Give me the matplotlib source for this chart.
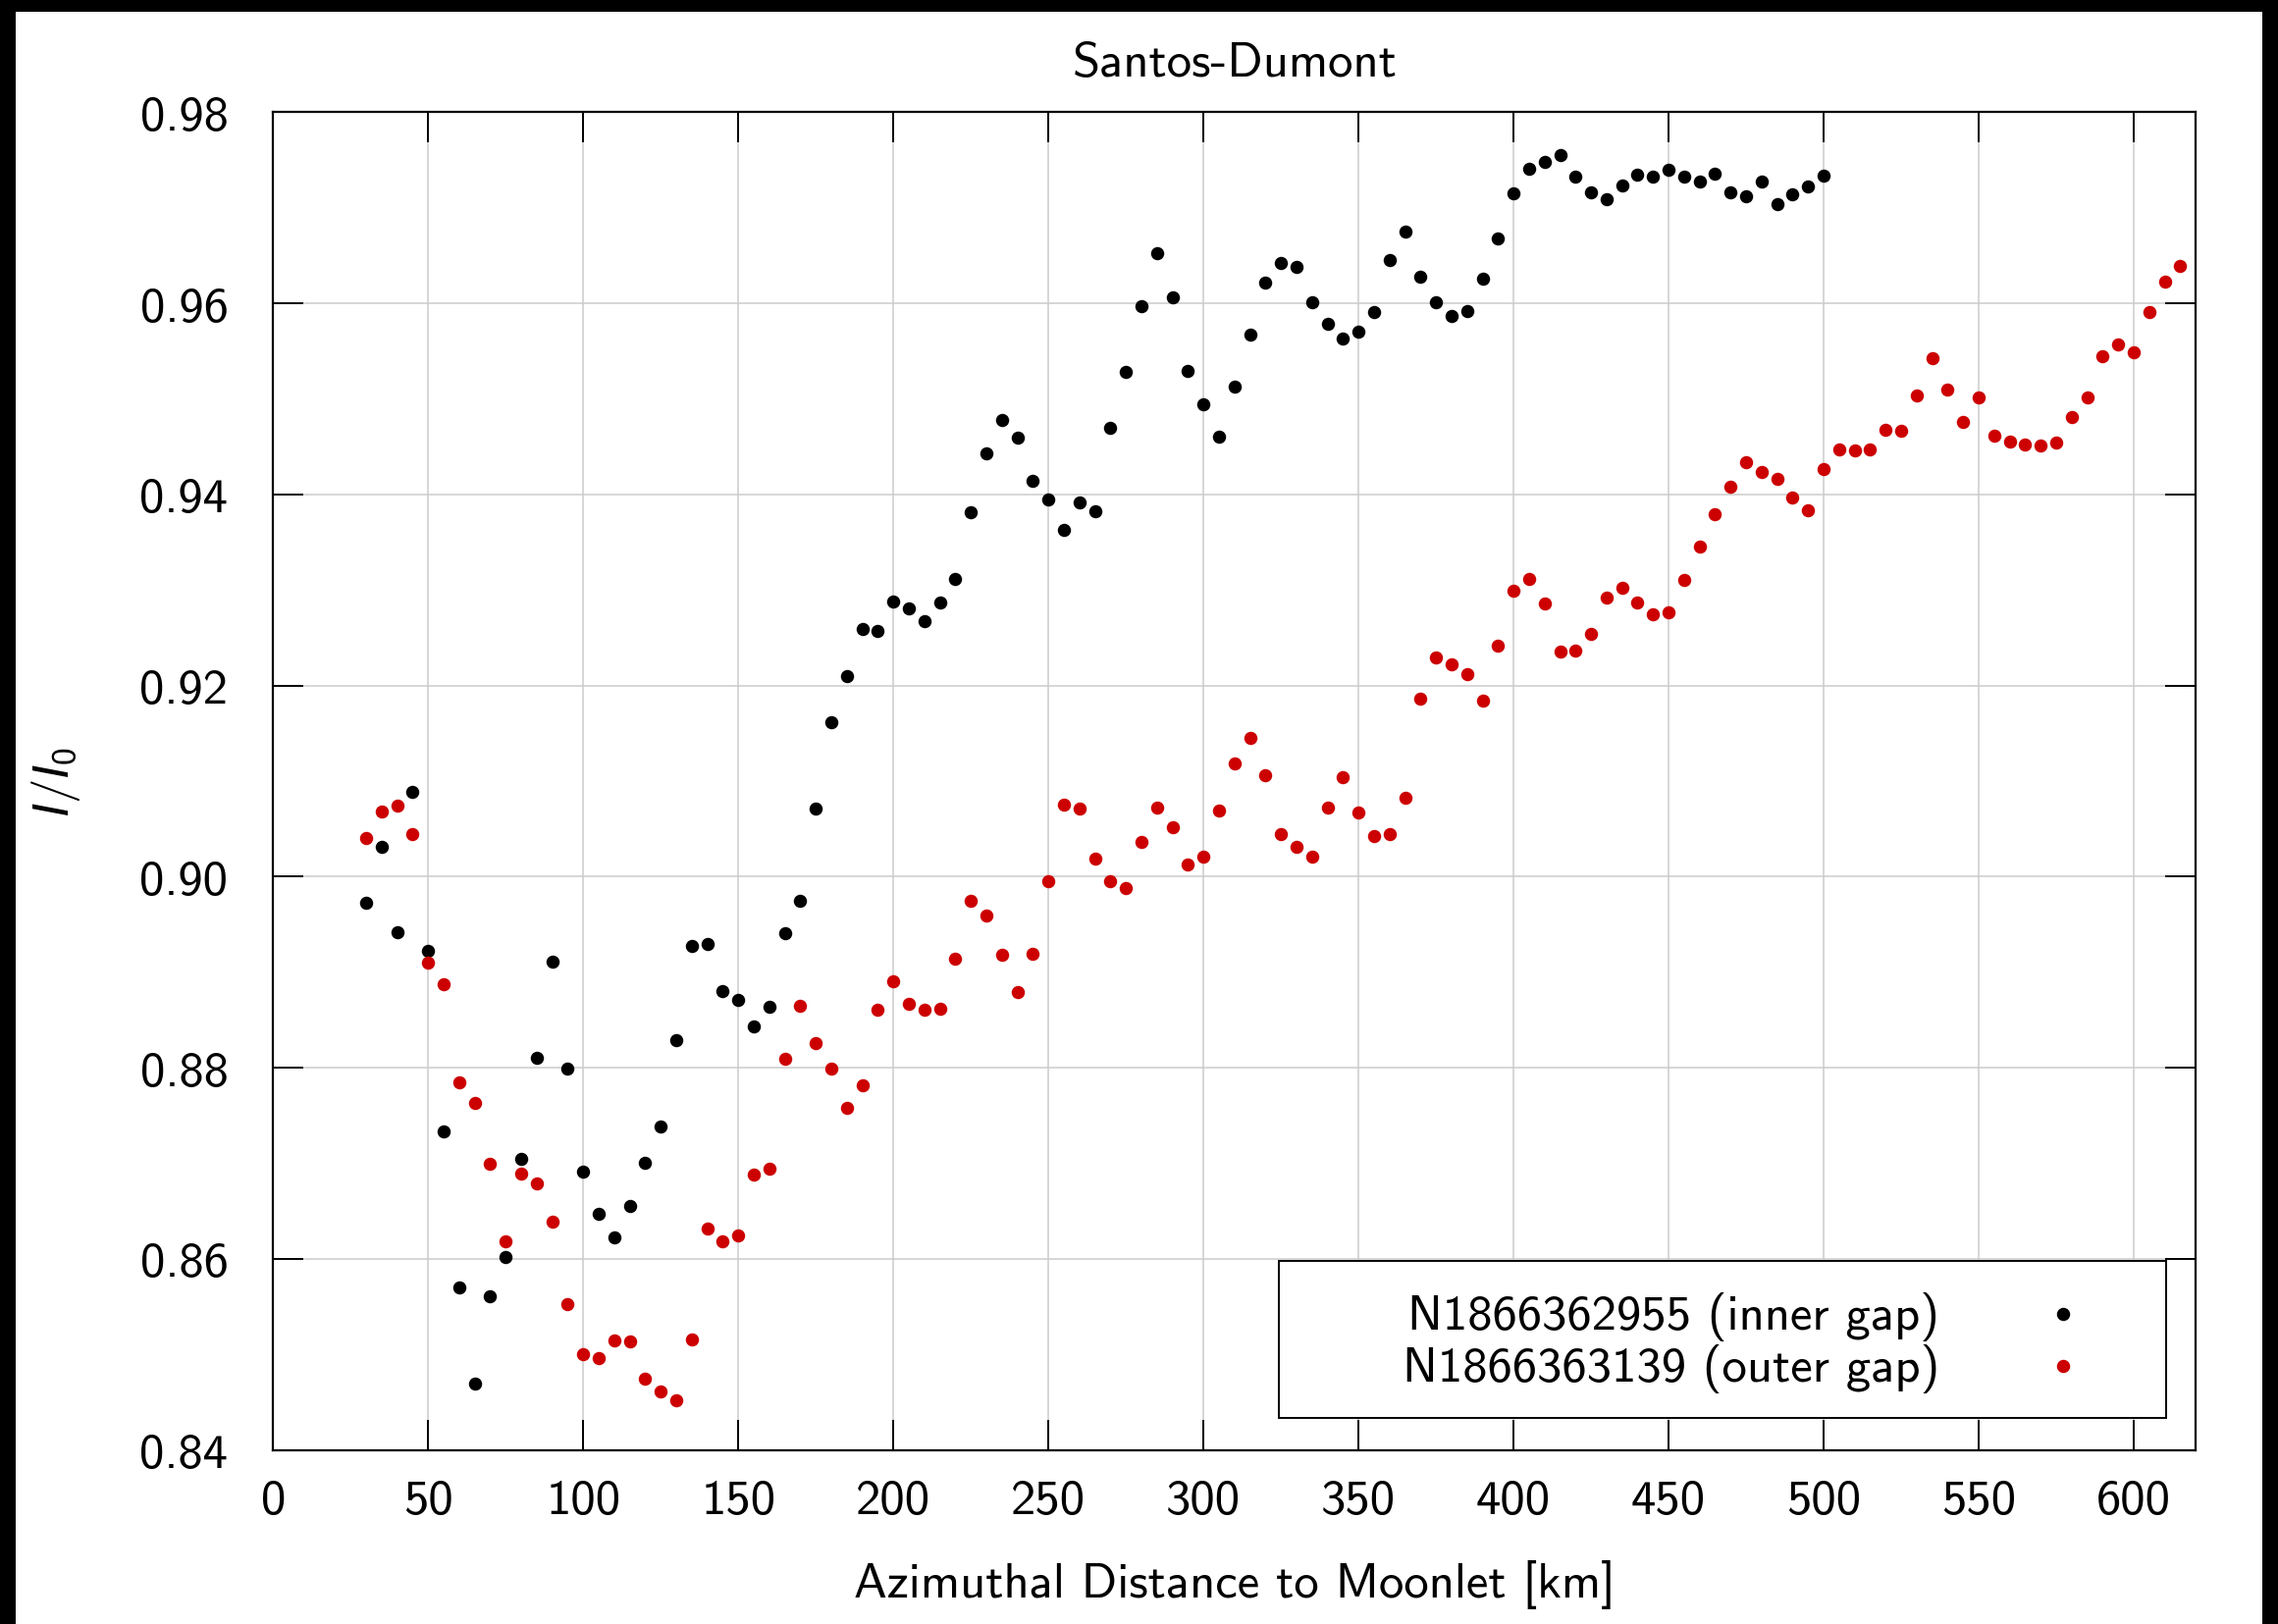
import matplotlib
matplotlib.use('Agg')
import matplotlib.pyplot as plt
from matplotlib.patches import Rectangle
from matplotlib.lines import Line2D

# azimuthal distance samples [km] and normalised intensity I/I0
dist_inner = [30, 35, 40, 45, 50, 55, 60, 65, 70, 75, 80, 85, 90, 95, 100,
              105, 110, 115, 120, 125, 130, 135, 140, 145, 150, 155, 160, 165,
              170, 175, 180, 185, 190, 195, 200, 205, 210, 215, 220, 225, 230,
              235, 240, 245, 250, 255, 260, 265, 270, 275, 280, 285, 290, 295,
              300, 305, 310, 315, 320, 325, 330, 335, 340, 345, 350, 355, 360,
              365, 370, 375, 380, 385, 390, 395, 400, 405, 410, 415, 420, 425,
              430, 435, 440, 445, 450, 455, 460, 465, 470, 475, 480, 485, 490,
              495, 500]
ratio_inner = [0.8973, 0.9031, 0.8942, 0.9089, 0.8922, 0.8733, 0.8570, 0.8469,
               0.8561, 0.8602, 0.8705, 0.8810, 0.8911, 0.8799, 0.8691, 0.8647,
               0.8622, 0.8655, 0.8700, 0.8738, 0.8829, 0.8927, 0.8930, 0.8880,
               0.8871, 0.8843, 0.8864, 0.8941, 0.8975, 0.9071, 0.9162, 0.9210,
               0.9259, 0.9257, 0.9288, 0.9281, 0.9267, 0.9287, 0.9311, 0.9381,
               0.9443, 0.9478, 0.9459, 0.9414, 0.9395, 0.9363, 0.9392, 0.9382,
               0.9470, 0.9528, 0.9597, 0.9652, 0.9606, 0.9529, 0.9494, 0.9460,
               0.9513, 0.9567, 0.9622, 0.9642, 0.9638, 0.9601, 0.9578, 0.9563,
               0.9570, 0.9591, 0.9645, 0.9675, 0.9628, 0.9601, 0.9587, 0.9592,
               0.9626, 0.9668, 0.9715, 0.9741, 0.9748, 0.9755, 0.9732, 0.9716,
               0.9709, 0.9723, 0.9735, 0.9733, 0.9740, 0.9733, 0.9727, 0.9736,
               0.9716, 0.9712, 0.9727, 0.9704, 0.9714, 0.9722, 0.9734]

dist_outer = [30, 35, 40, 45, 50, 55, 60, 65, 70, 75, 80, 85, 90, 95, 100,
              105, 110, 115, 120, 125, 130, 135, 140, 145, 150, 155, 160, 165,
              170, 175, 180, 185, 190, 195, 200, 205, 210, 215, 220, 225, 230,
              235, 240, 245, 250, 255, 260, 265, 270, 275, 280, 285, 290, 295,
              300, 305, 310, 315, 320, 325, 330, 335, 340, 345, 350, 355, 360,
              365, 370, 375, 380, 385, 390, 395, 400, 405, 410, 415, 420, 425,
              430, 435, 440, 445, 450, 455, 460, 465, 470, 475, 480, 485, 490,
              495, 500, 505, 510, 515, 520, 525, 530, 535, 540, 545, 550, 555,
              560, 565, 570, 575, 580, 585, 590, 595, 600, 605, 610, 615]
ratio_outer = [0.9040, 0.9068, 0.9074, 0.9044, 0.8910, 0.8887, 0.8785, 0.8763,
               0.8699, 0.8618, 0.8689, 0.8679, 0.8639, 0.8553, 0.8500, 0.8496,
               0.8515, 0.8514, 0.8475, 0.8461, 0.8452, 0.8516, 0.8632, 0.8618,
               0.8625, 0.8688, 0.8694, 0.8809, 0.8865, 0.8826, 0.8799, 0.8758,
               0.8782, 0.8861, 0.8890, 0.8867, 0.8861, 0.8862, 0.8914, 0.8975,
               0.8959, 0.8918, 0.8879, 0.8919, 0.8995, 0.9075, 0.9071, 0.9019,
               0.8995, 0.8988, 0.9036, 0.9072, 0.9052, 0.9013, 0.9021, 0.9069,
               0.9118, 0.9145, 0.9106, 0.9045, 0.9031, 0.9021, 0.9072, 0.9104,
               0.9067, 0.9042, 0.9045, 0.9082, 0.9186, 0.9229, 0.9222, 0.9212,
               0.9184, 0.9242, 0.9299, 0.9311, 0.9286, 0.9236, 0.9237, 0.9254,
               0.9292, 0.9302, 0.9287, 0.9275, 0.9277, 0.9310, 0.9345, 0.9379,
               0.9408, 0.9434, 0.9423, 0.9416, 0.9397, 0.9383, 0.9427, 0.9447,
               0.9446, 0.9447, 0.9468, 0.9467, 0.9503, 0.9543, 0.9510, 0.9476,
               0.9501, 0.9461, 0.9455, 0.9452, 0.9451, 0.9454, 0.9481, 0.9501,
               0.9545, 0.9557, 0.9549, 0.9591, 0.9623, 0.9639]

label_inner = 'N1866362955 (inner gap)'
label_outer = 'N1866363139 (outer gap)'
x_ticks = [0, 50, 100, 150, 200, 250, 300, 350, 400, 450, 500, 550, 600]
y_ticks = [0.84, 0.86, 0.88, 0.90, 0.92, 0.94, 0.96, 0.98]

plt.rcParams['font.family'] = ['cmss10', 'DejaVu Sans']
plt.rcParams['mathtext.fontset'] = 'custom'
plt.rcParams['mathtext.it'] = 'Liberation Sans:italic'
plt.rcParams['mathtext.rm'] = 'cmss10'
plt.rcParams['axes.unicode_minus'] = False

fs = 36.5
red = '#cc0000'

fig = plt.figure(figsize=(23.21, 16.56), dpi=100)
ax = fig.add_axes([0.1199, 0.1071, 0.8440, 0.8233])

ax.plot(dist_inner, ratio_inner, 'o', color='black', markersize=9.7,
        markeredgewidth=0, zorder=3)
ax.plot(dist_outer, ratio_outer, 'o', color=red, markersize=9.7,
        markeredgewidth=0, zorder=3)

ax.set_xlim(0, 620)
ax.set_ylim(0.84, 0.98)
ax.set_xticks(x_ticks)
ax.set_yticks(y_ticks)
ax.set_yticklabels(['%.2f' % v for v in y_ticks])
ax.grid(True, color='#cccccc', linewidth=1.1, zorder=0)
ax.set_axisbelow(True)
ax.tick_params(direction='in', length=22, width=1.4, top=True, right=True,
               labelsize=fs)
ax.tick_params(axis='x', pad=21)
ax.tick_params(axis='y', pad=33)
for sp in ax.spines.values():
    sp.set_linewidth(1.6)

ax.set_title('Santos-Dumont', fontsize=fs, pad=27)
ax.set_xlabel('Azimuthal Distance to Moonlet [km]', fontsize=fs, labelpad=27)
ax.set_ylabel(r'$I/I_0$', fontsize=fs, labelpad=42)

# key box in the lower right, text right-aligned with the marker after it
ax.add_patch(Rectangle((0.5229, 0.024), 0.4616, 0.1173, transform=ax.transAxes,
                       facecolor='white', edgecolor='black', linewidth=1.4,
                       zorder=4))
for row, (lab, col) in enumerate([(label_inner, 'black'), (label_outer, red)]):
    yk = 0.1000 - row * 0.039
    ax.text(0.8666, yk, lab, transform=ax.transAxes, ha='right', va='center',
            fontsize=fs, zorder=5)
    ax.add_line(Line2D([0.9311], [yk + 0.002], transform=ax.transAxes,
                       marker='o', color=col, markersize=9.7,
                       markeredgewidth=0, zorder=5))

# dark frame along the top and side edges
for rect in [(0, 0.99215, 1, 0.00785), (0, 0, 0.0069, 1), (0.9931, 0, 0.0069, 1)]:
    fig.add_artist(Rectangle(rect[:2], rect[2], rect[3], transform=fig.transFigure,
                             facecolor='black', edgecolor='none'))

fig.savefig('out.png', dpi=100)
